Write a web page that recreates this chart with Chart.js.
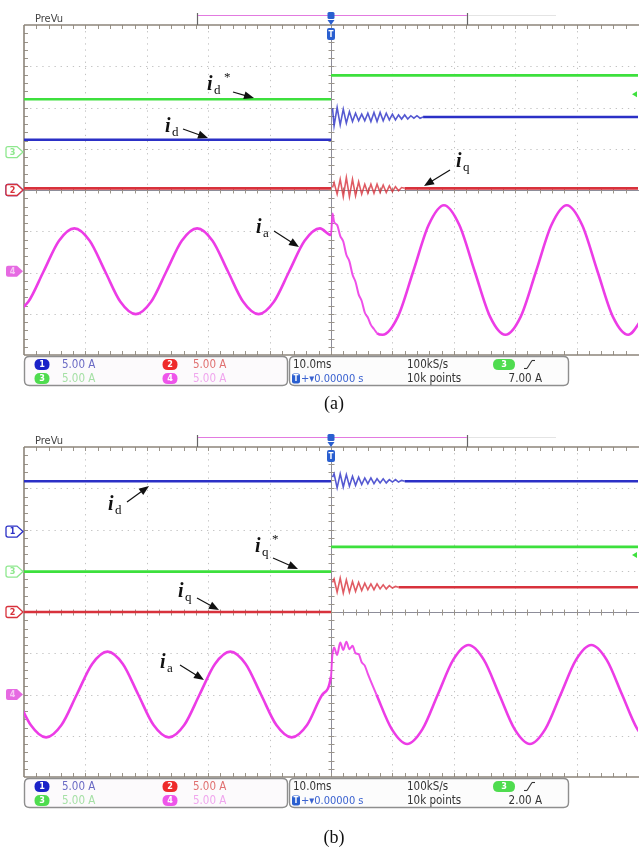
<!DOCTYPE html>
<html><head><meta charset="utf-8">
<script src="https://cdn.jsdelivr.net/npm/chart.js@4.4.0/dist/chart.umd.min.js"></script>
<style>
html,body{margin:0;padding:0;background:#fff;width:639px;height:855px;overflow:hidden}
canvas{position:absolute;left:0}
#ca{top:0}
#cb{top:422px}
</style></head><body>
<canvas id="ca" width="639" height="422"></canvas>
<canvas id="cb" width="639" height="433"></canvas>
<script>
// ---------- DATA (time in ms, current in A; 5.00 A/div on every channel) ----------
// Panel (a): step in d-axis current reference
const a_idRef = [[-50,6.4],[0,6.4],[0,null],[0.01,9.3],[50,9.3]];
const a_id = [[-50,6.1],[0,6.1],[0,null],[0.25,9.9],[0.5,7.8],[1,10.0],[1.5,7.9],[2,9.8],[2.5,8.1],[3,9.5],[3.5,8.3],[4,9.3],[4.5,8.4],[5,9.2],[5.5,8.4],[6,9.3],[6.5,8.3],[7,9.4],[7.5,8.3],[8,9.4],[8.5,8.4],[9,9.3],[9.5,8.5],[10,9.2],[10.5,8.5],[11,9.1],[11.5,8.6],[12,9.1],[12.5,8.6],[13,9.0],[13.5,8.7],[14,9.0],[14.5,8.7],[15,8.85],[50,8.85]];
const a_iq = [[-50,0.2],[0,0.2],[0,null],[0.25,0.3],[0.5,0.9],[1,-0.5],[1.5,1.3],[2,-0.8],[2.5,1.5],[3,-0.8],[3.5,1.3],[4,-0.7],[4.5,1.0],[5,-0.5],[5.5,0.7],[6,-0.4],[6.5,0.7],[7,-0.4],[7.5,0.7],[8,-0.3],[8.5,0.6],[9,-0.3],[9.5,0.5],[10,-0.2],[10.5,0.4],[11,-0.1],[11.5,0.3],[12,0.2],[50,0.2]];
const a_ia = [[-51.8,-5.2],[-49.3,-3.7],[-46.8,0],[-44.3,3.7],[-41.8,5.2],[-39.3,3.7],[-36.8,0],[-34.3,-3.7],[-31.8,-5.2],[-29.3,-3.7],[-26.8,0],[-24.3,3.7],[-21.8,5.2],[-19.3,3.7],[-16.8,0],[-14.3,-3.7],[-11.8,-5.2],[-9.3,-3.7],[-6.8,0],[-4.3,3.7],[-1.8,5.2],[0,4.4],
  [0.25,7.0],[0.5,6.0],[1.0,5.6],[1.5,4.3],[2.0,3.6],[2.5,2.0],[3.0,1.2],[3.5,-0.4],[4.0,-1.3],[4.5,-2.8],[5.0,-3.6],[5.5,-5.0],[6.0,-5.6],[6.5,-6.5],[7.0,-7.0],[7.5,-7.5],[8.4,-7.7],
  [10.9,-5.5],[13.4,0],[15.9,5.6],[18.4,8.0],[20.9,5.6],[23.4,0],[25.9,-5.5],[28.4,-7.7],[30.9,-5.5],[33.4,0],[35.9,5.6],[38.4,8.0],[40.9,5.6],[43.4,0],[45.9,-5.5],[48.4,-7.7],[50.9,-5.5]];
// Panel (b): step in q-axis current reference
const b_id = [[-50,6.1],[0,6.1],[0,null],[0.25,6.6],[0.5,7.0],[1,5.3],[1.5,7.0],[2,5.4],[2.5,6.9],[3,5.5],[3.5,6.7],[4,5.6],[4.5,6.6],[5,5.7],[5.5,6.5],[6,5.8],[6.5,6.5],[7,5.8],[7.5,6.4],[8,5.9],[8.5,6.4],[9,5.9],[9.5,6.3],[10,6.0],[10.5,6.3],[11,6.0],[11.5,6.2],[12,6.1],[50,6.1]];
const b_iqRef = [[-50,0],[0,0],[0,null],[0.01,3.0],[50,3.0]];
const b_iq = [[-50,0],[0,0],[0,null],[0.25,3.6],[0.5,4.0],[1,2.4],[1.5,4.1],[2,2.3],[2.5,3.9],[3,2.4],[3.5,3.7],[4,2.5],[4.5,3.6],[5,2.6],[5.5,3.5],[6,2.7],[6.5,3.4],[7,2.7],[7.5,3.4],[8,2.8],[8.5,3.3],[9,2.8],[9.5,3.2],[10,2.9],[10.5,3.1],[11,3.0],[50,3.0]];
const b_ia = [[-51.4,0],[-48.9,-3.7],[-46.4,-5.2],[-43.9,-3.7],[-41.4,0],[-38.9,3.7],[-36.4,5.2],[-33.9,3.7],[-31.4,0],[-28.9,-3.7],[-26.4,-5.2],[-23.9,-3.7],[-21.4,0],[-18.9,3.7],[-16.4,5.2],[-13.9,3.7],[-11.4,0],[-8.9,-3.7],[-6.4,-5.2],[-3.9,-3.7],[-1.4,0],[0,2.2],
  [0.2,4.6],[0.5,5.7],[1.0,4.8],[1.5,6.3],[2.0,5.4],[2.5,6.4],[3.0,5.5],[3.5,5.9],[4.0,5.0],[4.5,4.9],[5.0,3.9],[5.5,3.5],[6.0,2.5],[7.4,0],
  [9.9,-4.2],[12.4,-6.0],[14.9,-4.2],[17.4,0],[19.9,4.2],[22.4,6.0],[24.9,4.2],[27.4,0],[29.9,-4.2],[32.4,-6.0],[34.9,-4.2],[37.4,0],[39.9,4.2],[42.4,6.0],[44.9,4.2],[47.4,0],[49.9,-4.2],[52.4,-6.0]];

// status-bar texts
const voltsPerDiv = ['5.00 A','5.00 A','5.00 A','5.00 A'];
const timeBase = '10.0ms', sampleRate = '100kS/s', recordLen = '10k points', trigPos = '0.00000 s';
const trigLevelA = 7.00, trigLevelB = 2.00;
const captions = ['(a)','(b)'];

// ---------- STYLE / LAYOUT ----------
const COL = {1:'#2b30c6', 2:'#d8323c', 3:'#3de03d', 4:'#ec3ce6'};
const COL_T = {1:'rgba(43,48,198,0.8)', 2:'rgba(216,50,60,0.8)', 3:'#3de03d', 4:'rgba(236,60,230,0.9)'};
const VDIV = 5; // A per division
const TRANSIENT_END = {1:15, 2:12, 3:0, 4:8};

const panelA = {
  name:'A', canvas:'ca', bottomPad:67, caption:captions[0], captionY:404,
  offsets:{1:0, 2:0, 3:0.92, 4:-1.97},
  trig:trigLevelA,
  traces:[[a_ia,4,true],[a_iq,2,false],[a_id,1,false],[a_idRef,3,false]],
  markerOrder:[1,3,2,4],
  labels:[
    {x:207,y:90,sub:'d',star:true, ar:[233,92,254,98]},
    {x:165,y:132,sub:'d',star:false, ar:[183,129,208,138]},
    {x:456,y:167,sub:'q',star:false, ar:[450,170,424,186]},
    {x:256,y:233,sub:'a',star:false, ar:[274,231,299,247]}
  ]
};
const panelB = {
  name:'B', canvas:'cb', bottomPad:78, caption:captions[1], captionY:416,
  offsets:{1:1.95, 2:0, 3:0.98, 4:-2.0},
  trig:trigLevelB,
  traces:[[b_ia,4,true],[b_iq,2,false],[b_iqRef,3,false],[b_id,1,false]],
  markerOrder:[1,3,2,4],
  labels:[
    {x:108,y:88,sub:'d',star:false, ar:[127,80,149,64]},
    {x:255,y:130,sub:'q',star:true, ar:[273,136,298,147]},
    {x:178,y:175,sub:'q',star:false, ar:[197,176,219,188]},
    {x:160,y:246,sub:'a',star:false, ar:[180,243,204,258]}
  ]
};

const UIF = '"DejaVu Sans Condensed","DejaVu Sans",Arial,sans-serif';

function ln(ctx,x1,y1,x2,y2){ctx.beginPath();ctx.moveTo(x1,y1);ctx.lineTo(x2,y2);ctx.stroke();}
function rrect(ctx,x,y,w,h,r){ctx.beginPath();ctx.moveTo(x+r,y);ctx.lineTo(x+w-r,y);ctx.quadraticCurveTo(x+w,y,x+w,y+r);ctx.lineTo(x+w,y+h-r);ctx.quadraticCurveTo(x+w,y+h,x+w-r,y+h);ctx.lineTo(x+r,y+h);ctx.quadraticCurveTo(x,y+h,x,y+h-r);ctx.lineTo(x,y+r);ctx.quadraticCurveTo(x,y,x+r,y);ctx.closePath();}

function drawGrid(chart){
  const ctx=chart.ctx, a=chart.chartArea;
  const dx=(a.right-a.left)/10, dy=(a.bottom-a.top)/8;
  ctx.save();
  ctx.strokeStyle='#c2c2c2'; ctx.lineWidth=1; ctx.setLineDash([1.3,4.8]);
  for(let i=1;i<10;i++){ if(i===5) continue; const x=Math.round(a.left+i*dx)+0.5; ln(ctx,x,a.top,x,a.bottom); }
  for(let j=1;j<8;j++){ if(j===4) continue; const y=Math.round(a.top+j*dy)+0.5; ln(ctx,a.left,y,a.right,y); }
  ctx.setLineDash([]);
  const cx=Math.round(a.left+5*dx)+0.5, cy=Math.round(a.top+4*dy)+0.5;
  ctx.strokeStyle='#8d8d99'; ctx.lineWidth=1;
  ln(ctx,cx,a.top,cx,a.bottom); ln(ctx,a.left,cy,a.right+1,cy);
  ctx.strokeStyle='#9a948a';
  for(let k=1;k<50;k++){ const x=Math.round(a.left+k*dx/5)+0.5; ln(ctx,x,cy-3,x,cy+3); ln(ctx,x,a.top,x,a.top+4); ln(ctx,x,a.bottom-4,x,a.bottom); }
  for(let k=1;k<40;k++){ const y=Math.round(a.top+k*dy/5)+0.5; ln(ctx,cx-3,y,cx+3,y); ln(ctx,a.left,y,a.left+4,y); }
  ctx.strokeStyle='#8c857a'; ctx.lineWidth=1.6;
  ln(ctx,a.left,a.top,a.right+1,a.top); ln(ctx,a.left,a.top,a.left,a.bottom); ln(ctx,a.left,a.bottom,a.right+1,a.bottom);
  ctx.restore();
}

function tag(ctx,y,ch){
  const col=COL[ch], filled=(ch===4);
  const x0=6,x1=17,x2=23,h=5.5;
  ctx.beginPath(); ctx.moveTo(x0+2,y-h); ctx.lineTo(x1,y-h); ctx.lineTo(x2,y); ctx.lineTo(x1,y+h); ctx.lineTo(x0+2,y+h);
  ctx.quadraticCurveTo(x0,y+h,x0,y+h-2); ctx.lineTo(x0,y-h+2); ctx.quadraticCurveTo(x0,y-h,x0+2,y-h); ctx.closePath();
  if(filled){ ctx.fillStyle='#e66ae2'; ctx.fill(); }
  else { ctx.fillStyle='#fff'; ctx.fill(); ctx.strokeStyle=(ch===3?'#8fe88f':col); ctx.lineWidth=1.3; ctx.stroke(); }
  ctx.fillStyle=filled?'#f6c8f4':(ch===3?'#8fe88f':col);
  ctx.font='bold 9px '+UIF; ctx.textAlign='center'; ctx.textBaseline='middle';
  ctx.fillText(String(ch),x0+6.5,y+0.5);
}

function pill(ctx,cx,cy,w,col,txt){
  rrect(ctx,cx-w/2,cy-5.5,w,11,5.5); ctx.fillStyle=col; ctx.fill();
  ctx.fillStyle='#fff'; ctx.font='bold 9px '+UIF; ctx.textAlign='center'; ctx.textBaseline='middle';
  ctx.fillText(txt,cx,cy+0.5);
}

function arrow(ctx,x1,y1,x2,y2){
  const ang=Math.atan2(y2-y1,x2-x1), L=10, W=4;
  ctx.strokeStyle='#111'; ctx.lineWidth=1.2;
  ln(ctx,x1,y1,x2-Math.cos(ang)*L*0.8,y2-Math.sin(ang)*L*0.8);
  ctx.beginPath(); ctx.moveTo(x2,y2);
  ctx.lineTo(x2-Math.cos(ang)*L-Math.sin(ang)*W, y2-Math.sin(ang)*L+Math.cos(ang)*W);
  ctx.lineTo(x2-Math.cos(ang)*L+Math.sin(ang)*W, y2-Math.sin(ang)*L-Math.cos(ang)*W);
  ctx.closePath(); ctx.fillStyle='#111'; ctx.fill();
}

function drawOverlay(chart,P){
  const ctx=chart.ctx, a=chart.chartArea, ys=chart.scales.y;
  ctx.save();
  // header
  ctx.fillStyle='#444'; ctx.font='11px '+UIF; ctx.textAlign='left'; ctx.textBaseline='alphabetic';
  ctx.fillText('PreVu',35,a.top-3);
  ctx.strokeStyle='#666'; ctx.lineWidth=1.2;
  ln(ctx,197.5,a.top-12,197.5,a.top); ln(ctx,467.5,a.top-12,467.5,a.top);
  ctx.strokeStyle='#e27ae0'; ctx.lineWidth=1.2; ln(ctx,198,a.top-9.5,467,a.top-9.5);
  ctx.strokeStyle='#e4e4e4'; ctx.lineWidth=1; ln(ctx,468,a.top-9.5,556,a.top-9.5);
  // trigger position marker
  const cx=Math.round((a.left+a.right)/2);
  ctx.fillStyle='#2a5fd0';
  rrect(ctx,cx-3.5,a.top-13,7,7,1.5); ctx.fill();
  ctx.beginPath(); ctx.moveTo(cx-3.5,a.top-5); ctx.lineTo(cx+3.5,a.top-5); ctx.lineTo(cx,a.top); ctx.closePath(); ctx.fill();
  rrect(ctx,cx-4,a.top+3,8,12,2); ctx.fill();
  ctx.fillStyle='#fff'; ctx.font='bold 8px '+UIF; ctx.textAlign='center'; ctx.textBaseline='middle';
  ctx.fillText('T',cx,a.top+9.5);
  // trigger level marker (ch3)
  const ty=ys.getPixelForValue(P.offsets[3]+P.trig/VDIV);
  ctx.fillStyle='#3de03d';
  ctx.beginPath(); ctx.moveTo(a.right-6,ty); ctx.lineTo(a.right-1,ty-3); ctx.lineTo(a.right-1,ty+3); ctx.closePath(); ctx.fill();
  // channel markers
  P.markerOrder.forEach(ch=>tag(ctx,ys.getPixelForValue(P.offsets[ch]),ch));
  // annotations
  P.labels.forEach(L=>{
    ctx.fillStyle='#111'; ctx.textAlign='left'; ctx.textBaseline='alphabetic';
    ctx.font='italic bold 20px "Liberation Serif","Times New Roman",serif';
    ctx.fillText('i',L.x,L.y);
    ctx.font='13px "Liberation Serif","Times New Roman",serif';
    ctx.fillText(L.sub,L.x+7,L.y+4);
    if(L.star){ ctx.font='13px "Liberation Serif",serif'; ctx.fillText('*',L.x+17,L.y-9); }
    arrow(ctx,L.ar[0],L.ar[1],L.ar[2],L.ar[3]);
  });
  // status bar
  const by=a.bottom+1.5;
  ctx.lineWidth=1.4; ctx.strokeStyle='#8e8e8e';
  rrect(ctx,24.5,by,263,29,5); ctx.fillStyle='#fcfafc'; ctx.fill(); ctx.stroke();
  rrect(ctx,289.5,by,279,29,5); ctx.fillStyle='#fcfcfc'; ctx.fill(); ctx.stroke();
  const r1=by+8, r2=by+22;
  pill(ctx,42,r1,15,'#1a22c8','1'); pill(ctx,170,r1,15,'#ee2a2a','2');
  pill(ctx,42,r2,15,'#4fdc4f','3'); pill(ctx,170,r2,15,'#ee55ea','4');
  ctx.font='11.5px '+UIF; ctx.textAlign='left'; ctx.textBaseline='middle';
  ctx.fillStyle='#6a6ac4'; ctx.fillText(voltsPerDiv[0],62,r1+0.5);
  ctx.fillStyle='#e07070'; ctx.fillText(voltsPerDiv[1],193,r1+0.5);
  ctx.fillStyle='#a6e0a6'; ctx.fillText(voltsPerDiv[2],62,r2+0.5);
  ctx.fillStyle='#f0a6ee'; ctx.fillText(voltsPerDiv[3],193,r2+0.5);
  ctx.fillStyle='#333';
  ctx.fillText(timeBase,293,r1+0.5); ctx.fillText(sampleRate,407,r1+0.5); ctx.fillText(recordLen,407,r2+0.5);
  ctx.textAlign='right'; ctx.fillText(P.trig.toFixed(2)+' A',542,r2+0.5);
  pill(ctx,504,r1,22,'#4fdc4f','3');
  ctx.strokeStyle='#333'; ctx.lineWidth=1.1; ln(ctx,527,r1+4,532,r1-4); ln(ctx,532,r1-4,535,r1-4); ln(ctx,524,r1+4,527,r1+4);
  // trigger position
  ctx.fillStyle='#2a5fd0'; rrect(ctx,292,r2-5,8,10,2); ctx.fill();
  ctx.fillStyle='#fff'; ctx.font='bold 8px '+UIF; ctx.textAlign='center'; ctx.fillText('T',296,r2+0.5);
  ctx.fillStyle='#3a62d0'; ctx.font='11px '+UIF; ctx.textAlign='left';
  ctx.fillText('+\u25BE'+trigPos,301,r2+0.5);
  // caption
  ctx.fillStyle='#111'; ctx.font='18px "Liberation Serif","Times New Roman",serif'; ctx.textAlign='center'; ctx.textBaseline='middle';
  ctx.fillText(P.caption,334,P.captionY);
  ctx.restore();
}

function build(P){
  const datasets=P.traces.map(([arr,ch,smooth])=>{
    const tEnd=TRANSIENT_END[ch];
    const inTr=c=>c.p0.parsed.x>=0 && c.p1.parsed.x<=tEnd+0.01 && c.p1.parsed.x>0.02;
    return {
      data:arr.map(([t,v])=>({x:t,y:(v===null?null:P.offsets[ch]+v/VDIV)})),
      borderColor:COL[ch], borderWidth:2.6, pointRadius:0,
      cubicInterpolationMode: smooth?'monotone':'default', tension:0, spanGaps:false, fill:false,
      segment:{
        borderWidth:c=>inTr(c)?(smooth?2.0:1.6):2.6,
        borderColor:c=>inTr(c)?COL_T[ch]:COL[ch]
      }
    };
  });
  new Chart(document.getElementById(P.canvas),{
    type:'line',
    data:{datasets},
    options:{
      responsive:false, animation:false, devicePixelRatio:1,
      layout:{padding:{left:24,right:1,top:25,bottom:P.bottomPad}},
      plugins:{legend:{display:false},tooltip:{enabled:false},title:{display:false}},
      scales:{
        x:{type:'linear',min:-50,max:50,display:false},
        y:{type:'linear',min:-4,max:4,display:false}
      }
    },
    plugins:[{id:'scope'+P.name,
      beforeDatasetsDraw(c){drawGrid(c);},
      afterDatasetsDraw(c){drawOverlay(c,P);} }]
  });
}
build(panelA);
build(panelB);
</script>
</body></html>
